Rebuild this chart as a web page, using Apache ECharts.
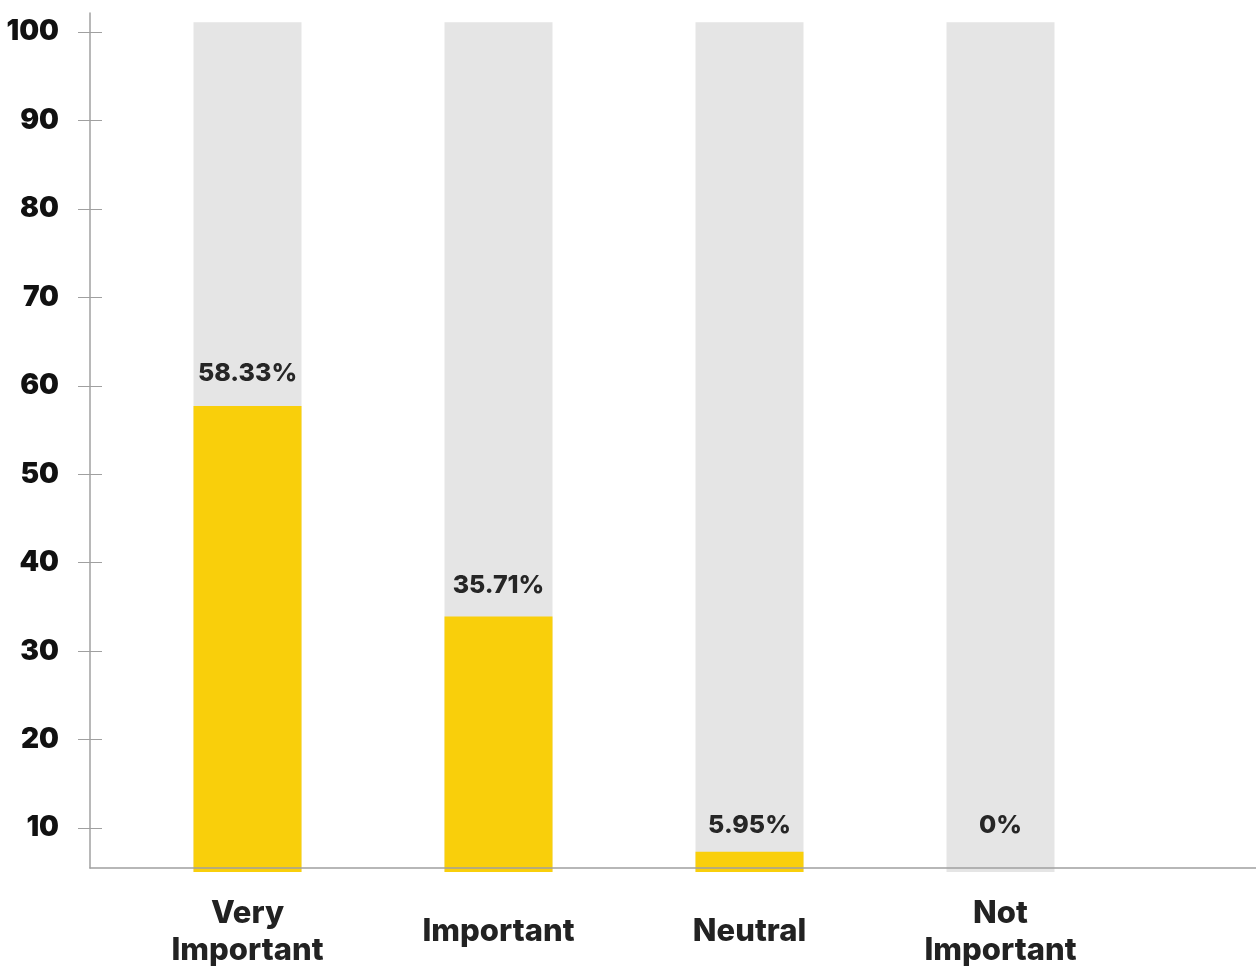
<!DOCTYPE html>
<html>
<head>
<meta charset="utf-8">
<script src="https://cdn.jsdelivr.net/npm/echarts@6/dist/echarts.min.js"></script>
<style>
  html, body { margin: 0; padding: 0; background: #ffffff; }
  #chart { width: 1256px; height: 966px; }
</style>
</head>
<body>
<div id="chart"></div>
<script>
// ---- data ----
const categories = ['Very\nImportant', 'Important', 'Neutral', 'Not\nImportant'];
// bar heights as drawn against the y-axis scale
const barValues = [57.7, 33.9, 7.3, 0];
// printed labels above the bars
const valueLabels = ['58.33%', '35.71%', '5.95%', '0%'];
// full-height background track value
const trackValues = [101.1, 101.1, 101.1, 101.1];
const yTicks = [10, 20, 30, 40, 50, 60, 70, 80, 90, 100];

// ---- style ----
const FONT = 'Inter';
const YELLOW = '#F9CF0B';
const TRACK = '#E5E5E5';
const AXIS = '#A0A0A0';
const yMin = 5, yMax = 102.15;
const labelGap = [20, 18, 14, 34];

const chart = echarts.init(document.getElementById('chart'), null, { renderer: 'canvas' });

const option = {
  animation: false,
  backgroundColor: '#ffffff',
  grid: [
    { left: 90, right: 0, top: 13, bottom: 98, outerBoundsMode: 'none', containLabel: false },     // axes frame
    { left: 122, right: 130, top: 13, bottom: 94, outerBoundsMode: 'none', containLabel: false },  // bars
    { left: 78, width: 24, top: 13, bottom: 98, outerBoundsMode: 'none', containLabel: false }     // crossing tick marks
  ],
  xAxis: [
    {
      gridIndex: 0, type: 'value', min: 0, max: 1, position: 'bottom',
      z: 10,
      axisLine: { show: true, lineStyle: { color: AXIS, width: 1.5 } },
      axisTick: { show: false }, axisLabel: { show: false }, splitLine: { show: false }
    },
    {
      gridIndex: 1, type: 'category', data: categories, position: 'bottom',
      axisLine: { show: false }, axisTick: { show: false }, splitLine: { show: false },
      axisLabel: {
        margin: 60, verticalAlign: 'middle', align: 'center',
        fontFamily: FONT, fontWeight: 800, fontSize: 31, lineHeight: 37, color: '#222222'
      }
    },
    {
      gridIndex: 2, type: 'value', min: 0, max: 1, show: false
    }
  ],
  yAxis: [
    {
      gridIndex: 0, type: 'value', min: 5.48, max: yMax, position: 'left',
      axisLine: { show: true, lineStyle: { color: AXIS, width: 1.5 } },
      axisTick: { show: false },
      axisLabel: {
        customValues: yTicks, margin: 31,
        fontFamily: FONT, fontWeight: 900, fontSize: 28, color: '#111111'
      },
      splitLine: { show: false }
    },
    {
      gridIndex: 1, type: 'value', min: yMin, max: yMax,
      show: false, splitLine: { show: false }
    },
    {
      gridIndex: 2, type: 'value', min: 5.48, max: yMax, position: 'left',
      axisLine: { show: false },
      axisTick: { show: true, length: 12, inside: true, customValues: yTicks, lineStyle: { color: AXIS, width: 1 } },
      axisLabel: { show: false },
      splitLine: { show: true, customValues: yTicks, lineStyle: { color: AXIS, width: 1 } }
    }
  ],
  series: [
    {
      type: 'bar', xAxisIndex: 1, yAxisIndex: 1,
      data: trackValues, barWidth: 108, barGap: '-100%',
      itemStyle: { color: TRACK }, silent: true, z: 1
    },
    {
      type: 'bar', xAxisIndex: 1, yAxisIndex: 1,
      data: barValues.map((v, i) => ({
        value: Math.max(v, yMin),
        label: { distance: labelGap[i] }
      })),
      barWidth: 108, barGap: '-100%',
      itemStyle: { color: YELLOW }, z: 2,
      label: {
        show: true, position: 'top',
        formatter: (p) => valueLabels[p.dataIndex],
        fontFamily: FONT, fontWeight: 800, fontSize: 25, color: '#262626'
      }
    }
  ]
};

chart.setOption(option);
</script>
</body>
</html>
